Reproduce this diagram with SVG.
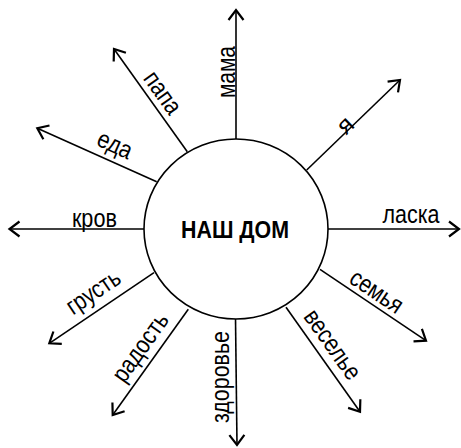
<svg xmlns="http://www.w3.org/2000/svg" width="461" height="448" viewBox="0 0 461 448">
<style>
.c{fill:#fff;stroke:#000;stroke-width:1.6}
.l{stroke:#000;stroke-width:1.6;fill:none;marker-end:url(#ah)}
.t{font-family:"Liberation Sans",Arial,sans-serif;font-size:25px;fill:#000;text-anchor:middle}
.h{font-family:"Liberation Sans",Arial,sans-serif;font-size:24px;font-weight:bold;fill:#000;text-anchor:middle}
</style>
<defs>
<marker id="ah" markerUnits="userSpaceOnUse" markerWidth="20" markerHeight="20" viewBox="-12 -10 14 20" refX="0" refY="0" orient="auto">
<path d="M-10,-7.5 L0,0 L-10,7.5" fill="none" stroke="#000" stroke-width="2.2"/>
</marker>
</defs>
<g id="connectors">
<line class="l" x1="236" y1="139" x2="236" y2="10"/>
<line class="l" x1="187.3" y1="151.7" x2="114" y2="49"/>
<line class="l" x1="306.7" y1="170" x2="400" y2="80"/>
<line class="l" x1="156.7" y1="181.7" x2="37.3" y2="128.3"/>
<line class="l" x1="144" y1="229" x2="9.5" y2="229"/>
<line class="l" x1="328" y1="229" x2="459" y2="229"/>
<line class="l" x1="320" y1="269.3" x2="426" y2="340.7"/>
<line class="l" x1="154" y1="272.7" x2="49.3" y2="343.3"/>
<line class="l" x1="188.3" y1="309.3" x2="112.7" y2="415"/>
<line class="l" x1="235.5" y1="318" x2="237" y2="445"/>
<line class="l" x1="286" y1="307.3" x2="360" y2="411.7"/>
</g>
<g id="center">
<ellipse class="c" cx="236" cy="229" rx="92" ry="90"/>
<text class="h" x="235" y="237.5" textLength="108" lengthAdjust="spacingAndGlyphs">НАШ ДОМ</text>
</g>
<g id="n-mama"><text class="t" transform="translate(235,72) rotate(-90)" textLength="52" lengthAdjust="spacingAndGlyphs">мама</text></g>
<g id="n-papa"><text class="t" transform="translate(156.1,97.5) rotate(54.5)" textLength="46.5" lengthAdjust="spacingAndGlyphs">папа</text></g>
<g id="n-ya"><text class="t" transform="translate(350.9,131) rotate(-44)">я</text></g>
<g id="n-eda"><text class="t" transform="translate(111.6,152.2) rotate(24.1)" textLength="36" lengthAdjust="spacingAndGlyphs">еда</text></g>
<g id="n-krov"><text class="t" x="94.4" y="227" textLength="45" lengthAdjust="spacingAndGlyphs">кров</text></g>
<g id="n-laska"><text class="t" x="411" y="223" textLength="57" lengthAdjust="spacingAndGlyphs">ласка</text></g>
<g id="n-semya"><text class="t" transform="translate(372.1,298.3) rotate(34)" textLength="58.6" lengthAdjust="spacingAndGlyphs">семья</text></g>
<g id="n-vesele"><text class="t" transform="translate(325.9,349.3) rotate(54.7)" textLength="80" lengthAdjust="spacingAndGlyphs">веселье</text></g>
<g id="n-zdorove"><text class="t" transform="translate(229,377) rotate(-90)" textLength="92" lengthAdjust="spacingAndGlyphs">здоровье</text></g>
<g id="n-radost"><text class="t" transform="translate(147,352) rotate(-54.4)" textLength="78.5" lengthAdjust="spacingAndGlyphs">радость</text></g>
<g id="n-grust"><text class="t" transform="translate(97.8,298.7) rotate(-34)" textLength="60" lengthAdjust="spacingAndGlyphs">грусть</text></g>
</svg>
